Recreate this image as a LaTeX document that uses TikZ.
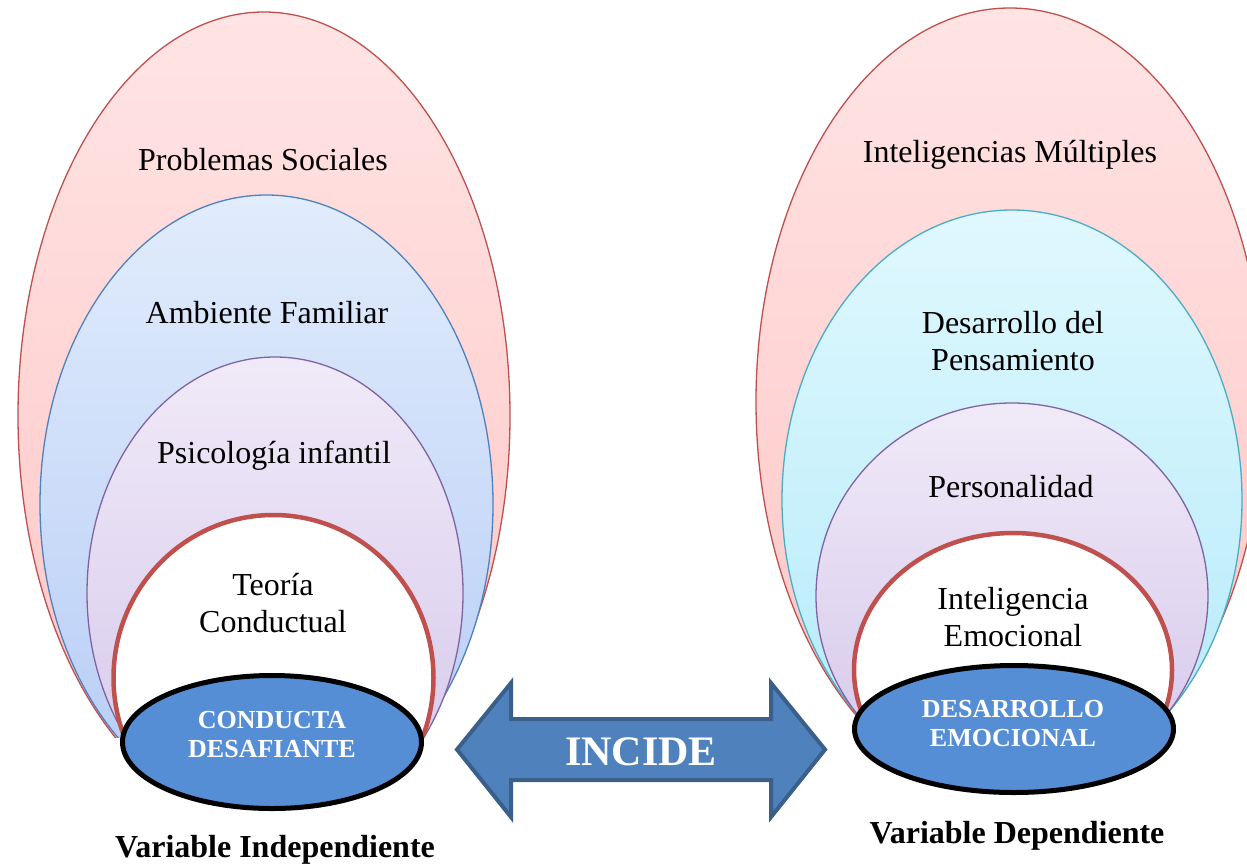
\documentclass[tikz,border=0pt]{standalone}
\usepackage{fontspec}
\setmainfont{Liberation Serif}
\usetikzlibrary{shapes.geometric}
\definecolor{redline}{HTML}{C0504D}
\definecolor{blueline}{HTML}{4F81BD}
\definecolor{purpleline}{HTML}{8064A2}
\definecolor{cyanline}{HTML}{4BACC6}
\definecolor{pinkT}{RGB}{255,228,228}
\definecolor{pinkB}{RGB}{255,196,196}
\definecolor{blueT}{RGB}{225,236,252}
\definecolor{blueB}{RGB}{182,204,246}
\definecolor{purpleT}{RGB}{240,234,248}
\definecolor{purpleB}{RGB}{212,198,234}
\definecolor{cyanT}{RGB}{224,248,254}
\definecolor{cyanB}{RGB}{178,234,250}
\definecolor{basefill}{HTML}{558ED5}
\definecolor{arrowfill}{HTML}{4F81BD}
\definecolor{arrowline}{HTML}{3A5F8B}
\begin{document}
\begin{tikzpicture}[x=1pt,y=-1pt,
  ring/.style={line width=1.3pt},
  corering/.style={line width=4.5pt, draw=redline, fill=white},
  baseell/.style={ellipse, draw=black, line width=5pt, fill=basefill, inner sep=0pt},
  lbl/.style={anchor=base, inner sep=0pt, font=\fontsize{32}{37}\selectfont},
  baselbl/.style={anchor=base, inner sep=0pt, text=white, font=\fontsize{26}{29}\selectfont\bfseries},
  varlbl/.style={anchor=base, inner sep=0pt, font=\fontsize{32}{37}\selectfont\bfseries},
  bigarrow/.style={draw=arrowline, fill=arrowfill, line width=4pt, line join=miter}]
\useasboundingbox (0,0) rectangle (1247,865);
\clip (0,0) rectangle (1247,865);
% ---------- left nest ----------
\begin{scope}
  \clip (0,0) rectangle (620,737);
  \path[ring, draw=redline, top color=pinkT, bottom color=pinkB]
    (264,415.7) ellipse [x radius=246pt, y radius=403.7pt];
  \path[ring, draw=blueline, top color=blueT, bottom color=blueB]
    (266.5,504.2) ellipse [x radius=226.5pt, y radius=309.2pt];
  \path[ring, draw=purpleline, top color=purpleT, bottom color=purpleB]
    (275,593.1) ellipse [x radius=188pt, y radius=236.1pt];
  \path[corering] (273.5,677.8) ellipse [x radius=160pt, y radius=162.8pt];
\end{scope}
% ---------- right nest ----------
\begin{scope}
  \clip (620,0) rectangle (1247,714);
  \path[ring, draw=redline, top color=pinkT, bottom color=pinkB]
    (1010,401.9) ellipse [x radius=254pt, y radius=393.9pt];
  \path[ring, draw=cyanline, top color=cyanT, bottom color=cyanB]
    (1012,499.8) ellipse [x radius=230pt, y radius=289.8pt];
  \path[ring, draw=purpleline, top color=purpleT, bottom color=purpleB]
    (1012,595.9) ellipse [x radius=196pt, y radius=192.9pt];
  \path[corering] (1013,670) ellipse [x radius=159pt, y radius=137pt];
\end{scope}
% ---------- base ellipses ----------
\node[baseell, minimum width=299pt, minimum height=133pt] (cd) at (272,742) {};
\node[baseell, minimum width=319pt, minimum height=127pt] (de) at (1014,729) {};
\node[baselbl] (cdt) at (272,728) {\begin{tabular}[t]{@{}c@{}}CONDUCTA\\DESAFIANTE\end{tabular}};
\node[baselbl] (det) at (1013,717) {\begin{tabular}[t]{@{}c@{}}DESARROLLO\\EMOCIONAL\end{tabular}};
% ---------- left labels ----------
\node[lbl] (ps) at (263,170) {Problemas Sociales};
\node[lbl] (af) at (267,323) {Ambiente Familiar};
\node[lbl] (pi) at (274,463) {Psicología infantil};
\node[lbl] (tc) at (273,595) {\begin{tabular}[t]{@{}c@{}}Teoría\\Conductual\end{tabular}};
% ---------- right labels ----------
\node[lbl] (im) at (1010,162) {Inteligencias Múltiples};
\node[lbl] (dp) at (1013,333) {\begin{tabular}[t]{@{}c@{}}Desarrollo del\\Pensamiento\end{tabular}};
\node[lbl] (pe) at (1011,497) {Personalidad};
\node[lbl] (ie) at (1013,609) {\begin{tabular}[t]{@{}c@{}}Inteligencia\\Emocional\end{tabular}};
% ---------- arrow ----------
\draw[bigarrow] (457,749.5) -- (511,683) -- (511,719) -- (771,719) -- (771,683)
  -- (825,749.5) -- (771,817) -- (771,780) -- (511,780) -- (511,817) -- cycle;
\node[anchor=base, inner sep=0pt, text=white, font=\fontsize{42}{48}\selectfont\bfseries] (inc) at (641,765) {INCIDE};
% ---------- variable labels ----------
\node[varlbl] (vi) at (275,857) {Variable Independiente};
\node[varlbl] (vd) at (1017,843) {Variable Dependiente};
\end{tikzpicture}
\end{document}
